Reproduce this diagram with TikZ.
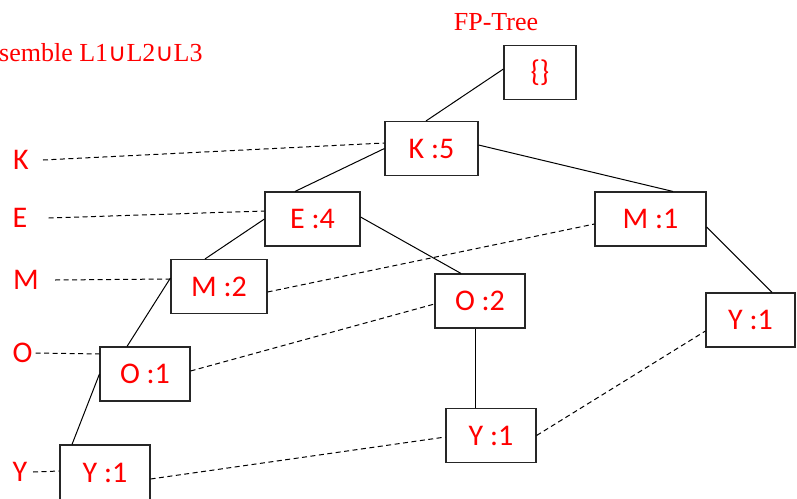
\documentclass[tikz,border=0pt]{standalone}
\usepackage{fontspec}
\newfontfamily\boxfont{Carlito}
\newfontfamily\serfont{Liberation Serif}
\newfontfamily\symfont{DejaVu Sans}
\newcommand{\myunion}{{\symfont\fontsize{25}{30}\selectfont ∪}}
\begin{document}
\begin{tikzpicture}[x=1pt,y=-1pt,
  tbox/.style={draw=black!85, line width=1.1pt, minimum height=54pt, inner sep=0pt,
    text=red, font=\boxfont\fontsize{30}{32}\selectfont},
  lbl/.style={inner sep=0pt, text=red, font=\boxfont\fontsize{30}{32}\selectfont},
  ttl/.style={inner sep=0pt, text=red, font=\serfont\fontsize{26}{30}\selectfont},
  edge/.style={draw=black, line width=1pt},
  link/.style={draw=black, line width=1pt, dash pattern=on 5pt off 3.5pt}]
\useasboundingbox (0,0) rectangle (797,498);
\begin{scope}
\clip (0,0) rectangle (797,498);
% titles
\node[ttl, anchor=base] (ftitle) at (496,30) {FP-Tree};
\node[ttl, anchor=base west] (ltitle) at (-1,61) {semble L1\myunion L2\myunion L3};
% tree nodes
\node[tbox, minimum width=72pt] (root) at (540,72.5) {\{\}};
\node[tbox, minimum width=93pt] (K) at (431.5,148.5) {K :5};
\node[tbox, minimum width=95pt] (E) at (312.5,219) {E :4};
\node[tbox, minimum width=111pt] (M1) at (650.5,219) {M :1};
\node[tbox, minimum width=96pt] (M2) at (219,286.5) {M :2};
\node[tbox, minimum width=90pt] (O2) at (480,301) {O :2};
\node[tbox, minimum width=90pt] (O1) at (145,374) {O :1};
\node[tbox, minimum width=90pt, minimum height=55pt] (YL) at (105,472.5) {Y :1};
\node[tbox, minimum width=90pt] (YM) at (491,435.5) {Y :1};
\node[tbox, minimum width=89pt] (YR) at (750.5,320) {Y :1};
% header labels
\node[lbl] (lK) at (21,160) {K};
\node[lbl] (lE) at (20,218) {E};
\node[lbl] (lM) at (26,280) {M};
\node[lbl] (lO) at (22.5,353) {O};
\node[lbl] (lY) at (20,472) {Y};
% tree edges
\draw[edge] ([yshift=3.5pt]root.west) -- ([xshift=-5.5pt]K.north);
\draw[edge] ([yshift=3.5pt]K.east) -- ([xshift=22.5pt]M1.north);
\draw[edge] (K.west) -- ([xshift=-17.5pt]E.north);
\draw[edge] (E.west) -- ([xshift=-14pt]M2.north);
\draw[edge] ([yshift=2pt]E.east) -- ([xshift=-19pt]O2.north);
\draw[edge] ([yshift=8.5pt]M2.west) -- ([xshift=-18pt]O1.north);
\draw[edge] (O1.west) -- ([xshift=-33pt]YL.north);
\draw[edge] ([xshift=-5pt]O2.south) -- ([xshift=-16pt]YM.north);
\draw[edge] ([yshift=-8pt]M1.east) -- ([xshift=21.5pt]YR.north);
% node links
\draw[link] ([xshift=14pt]lK.east) -- ([yshift=5.5pt]K.west);
\draw[link] ([xshift=21pt]lE.east) -- ([yshift=8pt]E.west);
\draw[link] ([xshift=16pt]lM.east) -- ([yshift=7.5pt]M2.west);
\draw[link] ([xshift=3pt]lO.east) -- ([yshift=20pt]O1.west);
\draw[link] ([xshift=5.5pt]lY.east) -- ([yshift=1.5pt]YL.west);
\draw[link] ([yshift=-5.5pt]M2.east) -- ([yshift=-5pt]M1.west);
\draw[link] ([yshift=3pt]O1.east) -- ([yshift=-3pt]O2.west);
\draw[link] ([yshift=-6.5pt]YL.east) -- ([yshift=-1.5pt]YM.west);
\draw[link] (YM.east) -- ([yshift=-11pt]YR.west);
\end{scope}
\end{tikzpicture}
\end{document}
